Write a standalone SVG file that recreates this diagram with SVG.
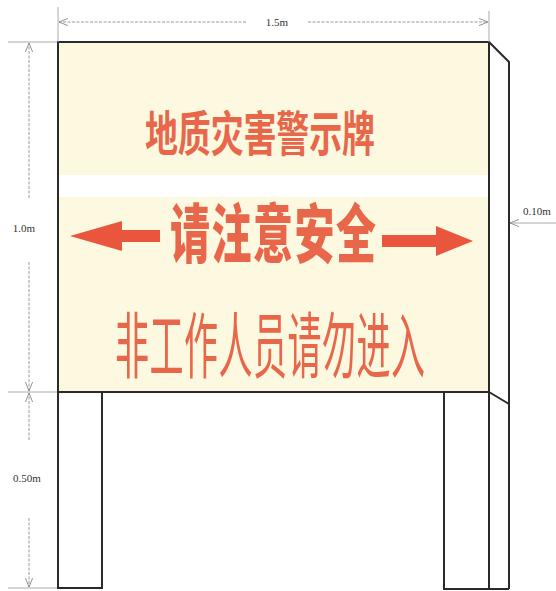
<svg xmlns="http://www.w3.org/2000/svg" width="556" height="591" viewBox="0 0 556 591">
<defs>
<marker id="ah" viewBox="0 0 10 10" refX="10" refY="5" markerWidth="9" markerHeight="9" orient="auto-start-reverse" markerUnits="userSpaceOnUse">
<path d="M0,1 L10,5 L0,9" fill="none" stroke="#888" stroke-width="1"/>
</marker>
<style>
.edge{fill:none;stroke:#2a2a2a;stroke-width:2}
.leg{fill:#ffffff;stroke:#2a2a2a;stroke-width:2}
.dim{fill:none;stroke:#999;stroke-width:1;stroke-dasharray:3 1.5}
.ext{fill:none;stroke:#aaa;stroke-width:1}
.dl{font-family:"Liberation Serif",serif;font-size:11px;fill:#333;text-anchor:middle}
.cn{font-family:"Noto Sans CJK SC",sans-serif;fill:#e8674b}
</style>
</defs>
<rect width="556" height="591" fill="#ffffff"/>
<g id="panel">
<rect x="58" y="42" width="431" height="350" fill="#fcf9e0"/>
<rect x="59" y="175" width="429" height="22" fill="#ffffff"/>
<rect x="58" y="42" width="431" height="350" class="edge"/>
</g>
<g id="side">
<path d="M489,42 L509,62 L509,589 M489,392 L509,404" class="edge"/>
</g>
<g id="left-leg">
<rect x="58" y="392" width="44" height="196" class="leg"/>
</g>
<g id="right-leg">
<rect x="444" y="392" width="45" height="197" class="leg"/>
<path d="M489,589 L509,589" class="edge"/>
</g>
<g id="texts">
<text class="cn" font-weight="bold" font-size="33" transform="translate(145,151) scale(1,1.45)" textLength="230" lengthAdjust="spacing">地质灾害警示牌</text>
<text class="cn" font-weight="900" font-size="40" transform="translate(170,257) scale(1,1.58)" textLength="206" lengthAdjust="spacing">请注意安全</text>
<text class="cn" font-weight="400" font-size="34" fill="#e35c46" transform="translate(115,372) scale(1,2.1)" textLength="310" lengthAdjust="spacing">非工作人员请勿进入</text>
</g>
<g id="arrows" fill="#e9553d">
<path d="M70,236 L122,221 L122,230 L160,230 L160,242 L122,242 L122,251 Z"/>
<path d="M473,241 L436,226 L436,235 L382,235 L382,247 L436,247 L436,256 Z"/>
</g>
<g id="connectors">
<path d="M58,7 L58,42 M489,11 L489,42" class="ext"/>
<path d="M8,42 L57,42 M8,392 L57,392 M8,588 L57,588" class="ext"/>
<path d="M246,22 L59,22" class="dim" marker-end="url(#ah)"/>
<path d="M308,22 L488,22" class="dim" marker-end="url(#ah)"/>
<path d="M29,198 L29,43" class="dim" marker-end="url(#ah)"/>
<path d="M29,262 L29,391" class="dim" marker-end="url(#ah)"/>
<path d="M29,440 L29,393" class="dim" marker-end="url(#ah)"/>
<path d="M29,518 L29,587" class="dim" marker-end="url(#ah)"/>
<path d="M556,223 L510,223" class="ext" marker-end="url(#ah)"/>
</g>
<g id="labels">
<text class="dl" x="277" y="26">1.5m</text>
<text class="dl" x="24" y="232">1.0m</text>
<text class="dl" x="27" y="482">0.50m</text>
<text class="dl" x="537" y="215">0.10m</text>
</g>
</svg>
